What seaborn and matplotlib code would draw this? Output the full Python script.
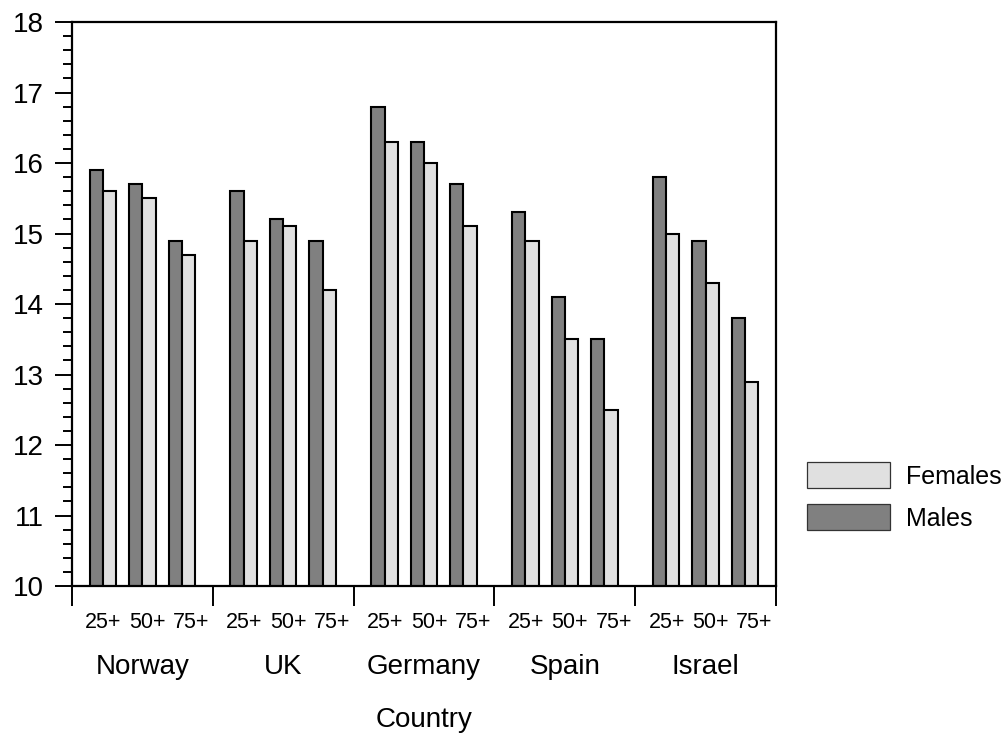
import numpy as np
import pandas as pd
import matplotlib
matplotlib.use("Agg")
import matplotlib.pyplot as plt
from matplotlib.patches import Patch
from matplotlib.ticker import MultipleLocator
import seaborn as sns

countries = ["Norway", "UK", "Germany", "Spain", "Israel"]
age_groups = ["25+", "50+", "75+"]
males = [15.9, 15.7, 14.9,
         15.6, 15.2, 14.9,
         16.8, 16.3, 15.7,
         15.3, 14.1, 13.5,
         15.8, 14.9, 13.8]
females = [15.6, 15.5, 14.7,
           14.9, 15.1, 14.2,
           16.3, 16.0, 15.1,
           14.9, 13.5, 12.5,
           15.0, 14.3, 12.9]

male_color = "#808080"
female_color = "#e0e0e0"
age_step = 0.28          # spacing of the age pairs inside a country group
label_step = 0.312       # spacing of the age labels under a group
label_shift = 0.035

sns.set_theme(style="white")
plt.rcParams["font.family"] = ["Liberation Sans", "DejaVu Sans"]
plt.rcParams["text.color"] = "black"

rows = []
for gi, country in enumerate(countries):
    for ai, age in enumerate(age_groups):
        k = gi * len(age_groups) + ai
        pos = gi + (ai - 1) * age_step
        rows.append({"pos": pos, "country": country, "age": age, "sex": "Males", "value": males[k]})
        rows.append({"pos": pos, "country": country, "age": age, "sex": "Females", "value": females[k]})
df = pd.DataFrame(rows)

fig = plt.figure(figsize=(10.02, 7.37), dpi=100)
ax = fig.add_axes([72 / 1002, 1 - 586 / 737, (776 - 72) / 1002, (586 - 22) / 737])

sns.barplot(data=df, x="pos", y="value", hue="sex", hue_order=["Males", "Females"],
            palette={"Males": male_color, "Females": female_color},
            native_scale=True, dodge=True, width=0.674, gap=0,
            edgecolor="black", linewidth=1.5, saturation=1,
            errorbar=None, legend=False, ax=ax)

ax.set_ylim(10, 18)
ax.set_xlim(-0.5, len(countries) - 0.5)

# y axis: major ticks every unit, minor every 0.2, all pointing outward
ax.yaxis.set_major_locator(MultipleLocator(1))
ax.yaxis.set_minor_locator(MultipleLocator(0.2))
ax.tick_params(axis="y", which="major", direction="out", length=12.5, width=1.4,
               labelsize=20, pad=8, left=True, color="black", labelcolor="black")
ax.tick_params(axis="y", which="minor", direction="out", length=6.5, width=1.4,
               left=True, color="black")

# x axis: ticks only at group boundaries
ax.set_xticks(np.arange(len(countries) + 1) - 0.5)
ax.set_xticklabels([])
ax.tick_params(axis="x", which="major", direction="out", length=14.5, width=1.4,
               bottom=True, color="black")
ax.set_xlabel("")
ax.set_ylabel("")

for side in ["left", "right", "top", "bottom"]:
    ax.spines[side].set_visible(True)
    ax.spines[side].set_color("black")
    ax.spines[side].set_linewidth(1.6)

trans = ax.get_xaxis_transform()
for gi, country in enumerate(countries):
    for ai, age in enumerate(age_groups):
        ax.text(gi + label_shift + (ai - 1) * label_step, -36 / 564, age, transform=trans,
                ha="center", va="center", fontsize=15.5, color="black")
    ax.text(gi, -81 / 564, country, transform=trans, ha="center", va="center",
            fontsize=20, color="black")

ax.text(0.5, -134 / 564, "Country", transform=ax.transAxes, ha="center", va="center",
        fontsize=20, color="black")

handles = [Patch(facecolor=female_color, edgecolor="#333333", linewidth=0.9, label="Females"),
           Patch(facecolor=male_color, edgecolor="#333333", linewidth=0.9, label="Males")]
fig.legend(handles=handles, loc="upper left",
           bbox_to_anchor=(807 / 1002, 1 - 462 / 737), bbox_transform=fig.transFigure,
           frameon=False, fontsize=18, handlelength=3.3, handleheight=1.24,
           handletextpad=0.64, labelspacing=0.62, borderpad=0, borderaxespad=0,
           labelcolor="black")

fig.savefig("out.png", dpi=100)
